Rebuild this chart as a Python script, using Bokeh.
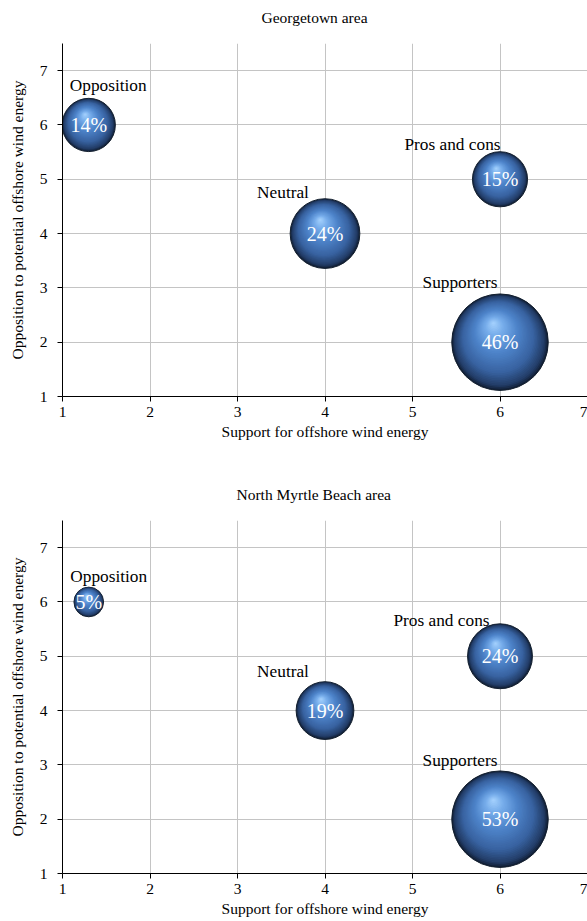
import numpy as np
from bokeh.plotting import figure
from bokeh.models import ColumnDataSource, FixedTicker, Range1d, Title
from bokeh.layouts import column
from bokeh.embed import file_html
from bokeh.resources import INLINE
from bokeh.core.properties import value

# ---------------- data ----------------
categories = ["Opposition", "Neutral", "Pros and cons", "Supporters"]
support = [1.3, 4, 6, 6]          # x: Support for offshore wind energy
opposition = [6, 4, 5, 2]         # y: Opposition to potential offshore wind energy
georgetown_pct = [14, 24, 15, 46]
nmb_pct = [5, 19, 24, 53]
x_ticks = [1, 2, 3, 4, 5, 6, 7]
y_ticks = [1, 2, 3, 4, 5, 6, 7]

# label placement (screen px offsets from bubble centre)
gt_label_dx = [19.5, -42, -47.5, -40]
gt_label_dy = [-39, -41, -35, -60]
nmb_label_dx = [20, -42, -58.5, -40]
nmb_label_dy = [-25, -39, -35.5, -59]

FONT = "Liberation Serif"
FRAME_W, FRAME_H = 525, 353
X0, X1, Y0, Y1 = 1, 7, 1, 7.5
PX_X = FRAME_W / (X1 - X0)
PX_Y = FRAME_H / (Y1 - Y0)
DMAX = 96.5

STOPS = [
    (0.00, (18, 32, 56)),
    (0.06, (34, 60, 102)),
    (0.25, (56, 98, 160)),
    (0.55, (78, 132, 202)),
    (0.80, (118, 172, 234)),
    (1.00, (168, 212, 255)),
]


def grad(t):
    for (t0, c0), (t1, c1) in zip(STOPS[:-1], STOPS[1:]):
        if t <= t1:
            f = (t - t0) / (t1 - t0)
            c = [int(round(a + (b - a) * f)) for a, b in zip(c0, c1)]
            return "#%02x%02x%02x" % tuple(c)
    return "#%02x%02x%02x" % STOPS[-1][1]


def make(title, pct, ldx, ldy, min_bottom, title_w):
    p = figure(frame_width=FRAME_W, frame_height=FRAME_H,
               x_range=Range1d(X0, X1), y_range=Range1d(Y0, Y1),
               output_backend="svg", toolbar_location=None,
               min_border_left=62, min_border_right=0, min_border_top=43,
               min_border_bottom=min_bottom)
    p.outline_line_color = None
    p.background_fill_color = "white"
    p.border_fill_color = "white"

    for ax in (p.xaxis, p.yaxis):
        ax.axis_line_color = "black"
        ax.axis_line_width = 1
        ax.major_tick_line_color = "black"
        ax.major_tick_out = 5
        ax.major_tick_in = 0
        ax.minor_tick_line_color = None
        ax.major_label_text_font = FONT
        ax.major_label_text_font_size = "15.5px"
        ax.major_label_text_color = "black"
        ax.axis_label_text_font = FONT
        ax.axis_label_text_font_size = "15.5px"
        ax.axis_label_text_font_style = "normal"
        ax.axis_label_text_color = "black"
    p.xaxis.ticker = FixedTicker(ticks=x_ticks)
    p.yaxis.ticker = FixedTicker(ticks=y_ticks)
    p.xaxis.major_label_standoff = 5
    p.yaxis.major_label_standoff = 10
    p.xaxis.axis_label_standoff = 3
    p.yaxis.axis_label_standoff = 11
    p.xaxis.axis_label = "Support for offshore wind energy"
    p.yaxis.axis_label = "Opposition to potential offshore wind energy"
    p.xgrid.ticker = FixedTicker(ticks=x_ticks)
    p.ygrid.ticker = FixedTicker(ticks=y_ticks)
    p.grid.grid_line_color = "#c4c4c4"
    p.grid.grid_line_width = 1

    # bubbles (area proportional), drawn as shaded spheres
    xs = np.array(support, float)
    ys = np.array(opposition, float)
    v = np.array(pct, float)
    D = DMAX * np.sqrt(v / v.max())
    R = D / 2
    hx, hy = -0.14, 0.40
    N = 40
    for k in range(N):
        t = k / N
        p.scatter(xs + t * hx * R / PX_X, ys + t * hy * R / PX_Y,
                  size=D * (1 - t), marker="circle",
                  fill_color=grad(t),
                  line_color="#14202f" if k == 0 else None,
                  line_width=1)

    src = ColumnDataSource(dict(x=support, y=opposition,
                                pct=["%d%%" % q for q in pct],
                                cat=categories, dx=ldx, dy=ldy))
    p.text(x="x", y="y", text="pct", source=src,
           text_font=value(FONT), text_font_size="20px", text_color="white",
           text_align="center", text_baseline="middle")
    p.text(x="x", y="y", text="cat", source=src, x_offset="dx", y_offset="dy",
           text_font=value(FONT), text_font_size="17.3px", text_color="black",
           text_align="center", text_baseline="middle")

    # title: a blank spacer title next to the frame, the real title above it
    p.title.text = ""
    p.add_layout(Title(text=" ", text_font=FONT, text_font_size="15px",
                       standoff=0), "above")
    p.add_layout(Title(text=title, text_font=FONT, text_font_size="15.5px",
                       text_font_style="normal", text_color="black",
                       align="left", offset=315 - 62 - title_w / 2,
                       vertical_align="bottom", standoff=0), "above")
    return p


p1 = make("Georgetown area", georgetown_pct, gt_label_dx, gt_label_dy, 81, 108)
p2 = make("North Myrtle Beach area", nmb_pct, nmb_label_dx, nmb_label_dy, 44, 158)

layout = column(p1, p2, spacing=0)
open("out.html", "w").write(file_html(layout, INLINE))
